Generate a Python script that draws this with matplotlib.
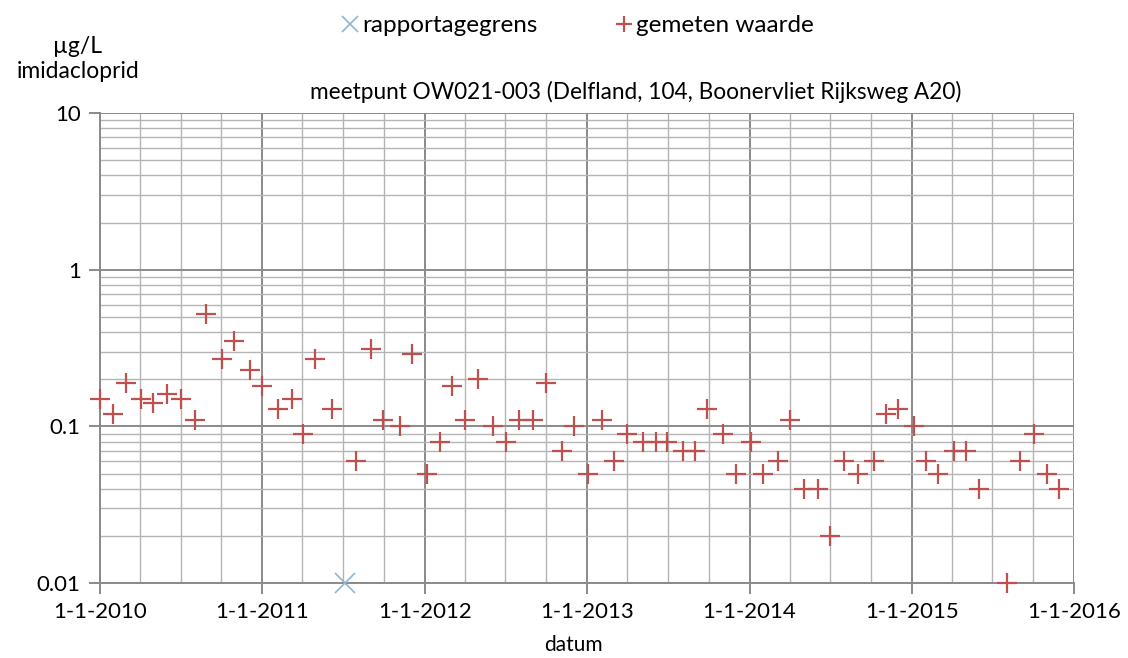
import pandas as pd
import matplotlib.pyplot as plt
import matplotlib.dates as mdates
from matplotlib.ticker import FixedLocator, LogLocator, NullFormatter

plt.rcParams['font.family'] = ['Lato', 'DejaVu Sans']

# Metingen imidacloprid (µg/L), meetpunt OW021-003
datums = ['2010-01-01', '2010-01-30', '2010-02-28', '2010-04-03', '2010-04-30',
          '2010-06-01', '2010-07-02', '2010-08-03', '2010-08-28', '2010-10-03',
          '2010-10-30', '2010-12-05', '2011-01-01', '2011-02-06', '2011-03-09',
          '2011-04-03', '2011-04-30', '2011-06-07', '2011-07-31', '2011-09-03',
          '2011-09-30', '2011-11-07', '2011-12-04', '2012-01-07', '2012-02-05',
          '2012-03-03', '2012-04-01', '2012-05-01', '2012-06-03', '2012-07-03',
          '2012-08-01', '2012-09-01', '2012-10-01', '2012-11-06', '2012-12-03',
          '2013-01-03', '2013-02-04', '2013-03-03', '2013-04-01', '2013-05-07',
          '2013-06-05', '2013-06-30', '2013-08-05', '2013-09-01', '2013-09-28',
          '2013-11-03', '2013-12-02', '2014-01-05', '2014-02-01', '2014-03-07',
          '2014-04-03', '2014-05-04', '2014-06-03', '2014-07-02', '2014-08-02',
          '2014-09-01', '2014-10-09', '2014-11-05', '2014-12-02', '2015-01-05',
          '2015-02-03', '2015-03-02', '2015-04-05', '2015-05-04', '2015-06-02',
          '2015-08-02', '2015-09-02', '2015-10-02', '2015-11-02', '2015-11-29']
waarden = [0.15, 0.12, 0.19, 0.15, 0.14,
           0.16, 0.15, 0.11, 0.52, 0.27,
           0.35, 0.23, 0.18, 0.13, 0.15,
           0.09, 0.27, 0.13, 0.06, 0.31,
           0.11, 0.10, 0.29, 0.05, 0.08,
           0.18, 0.11, 0.20, 0.10, 0.08,
           0.11, 0.11, 0.19, 0.07, 0.10,
           0.05, 0.11, 0.06, 0.09, 0.08,
           0.08, 0.08, 0.07, 0.07, 0.13,
           0.09, 0.05, 0.08, 0.05, 0.06,
           0.11, 0.04, 0.04, 0.02, 0.06,
           0.05, 0.06, 0.12, 0.13, 0.10,
           0.06, 0.05, 0.07, 0.07, 0.04,
           0.01, 0.06, 0.09, 0.05, 0.04]

# Rapportagegrens (waarde onder de grens)
grens_datums = ['2011-07-06']
grens_waarden = [0.01]

jaren = ['2010', '2011', '2012', '2013', '2014', '2015', '2016']
y_ticks = [0.01, 0.1, 1, 10]
y_labels = ['0.01', '0.1', '1', '10']

t = pd.to_datetime(datums)
t_grens = pd.to_datetime(grens_datums)

fig = plt.figure(figsize=(11.28, 6.58), dpi=100)
ax = fig.add_axes([0.0887, 0.114, 0.8635, 0.714])

rood = '#c0504d'
blauw = '#8eb4d6'

ax.plot(t_grens, grens_waarden, linestyle='none', marker='x', markersize=15,
        markeredgewidth=1.2, color=blauw, label='rapportagegrens', clip_on=False, zorder=5)
ax.plot(t, waarden, linestyle='none', marker='+', markersize=15,
        markeredgewidth=1.6, color=rood, label='gemeten waarde', clip_on=False, zorder=6)

ax.set_yscale('log')
ax.set_ylim(0.01, 10)
ax.yaxis.set_major_locator(FixedLocator(y_ticks))
ax.set_yticklabels(y_labels)
ax.yaxis.set_minor_locator(LogLocator(base=10, subs=range(2, 10)))
ax.yaxis.set_minor_formatter(NullFormatter())

jaar_data = pd.to_datetime([j + '-01-01' for j in jaren])
ax.set_xlim(jaar_data[0], jaar_data[-1])
ax.xaxis.set_major_locator(FixedLocator(mdates.date2num(jaar_data)))
ax.set_xticklabels(['1-1-' + j for j in jaren])
ax.xaxis.set_minor_locator(mdates.MonthLocator(bymonth=[4, 7, 10]))

ax.grid(which='major', color='#8a8a8a', linewidth=1.4)
ax.grid(which='minor', color='#b4b4b4', linewidth=1.0)
ax.set_axisbelow(True)

for kant in ['top', 'right']:
    ax.spines[kant].set_visible(False)
for kant in ['left', 'bottom']:
    ax.spines[kant].set_color('#8a8a8a')
    ax.spines[kant].set_linewidth(1.4)

ax.tick_params(axis='both', which='major', direction='out', length=8,
               width=1.4, color='#8a8a8a', labelsize=16, pad=6)
ax.tick_params(axis='both', which='minor', length=0)

ax.set_title('meetpunt OW021-003 (Delfland, 104, Boonervliet Rijksweg A20)',
             fontsize=16.3, pad=10, x=0.55)
fig.text(0.069, 0.929, 'µg/L', ha='center', va='center', fontsize=16.5)
fig.text(0.069, 0.891, 'imidacloprid', ha='center', va='center', fontsize=16.5)
fig.text(0.508, 0.02, 'datum', ha='center', va='center', fontsize=15)

fig.legend(loc='upper center', bbox_to_anchor=(0.512, 1.01), ncol=2, frameon=False,
           fontsize=17.5, handlelength=0.7, handletextpad=0.15, columnspacing=3.2,
           markerscale=0.75)

fig.savefig('out.png', dpi=100)
